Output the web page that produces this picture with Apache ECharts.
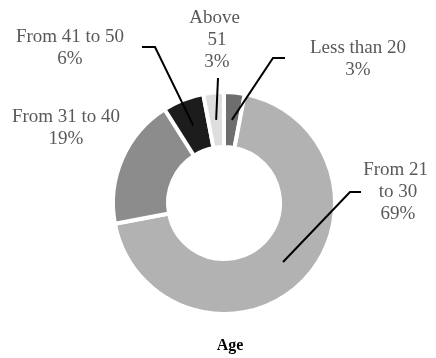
<!DOCTYPE html>
<html>
<head>
<meta charset="utf-8">
<style>
  html, body { margin: 0; padding: 0; background: #ffffff; }
  #chart { width: 436px; height: 358px; }
</style>
<script src="https://cdn.jsdelivr.net/npm/echarts@6/dist/echarts.min.js"></script>
</head>
<body>
<div id="chart"></div>
<script>
// Age distribution of respondents (percent)
const categories = ['Less than 20', 'From 21 to 30', 'From 31 to 40', 'From 41 to 50', 'Above 51'];
const shares = [3, 69, 19, 6, 3];
const sliceColors = ['#6e6e6e', '#b2b2b2', '#8c8c8c', '#1c1c1c', '#dedede'];
const chartTitle = 'Age';

const CX = 224, CY = 203;
const R_OUT = 111, R_IN = 56;
const SERIF = "'Liberation Serif', 'Times New Roman', serif";

// Label placement: label centre, then the leader-line bend/end points (null = no line)
const labelPlaces = [
  { x: 358, y: 59,  wrap: null, line: [[273, 58], [285, 58]] },
  { x: 398, y: 192, wrap: 72,   line: [[350, 192], [361, 192]] },
  { x: 66,  y: 128, wrap: null, line: null },
  { x: 70,  y: 48,  wrap: null, line: [[155, 47], [142, 47]] },
  { x: 217, y: 40,  wrap: 58,   line: [[218, 78]] }
];

// Mid-angle of each slice, clockwise from 12 o'clock, used to anchor leader lines
const total = shares.reduce((a, b) => a + b, 0);
const midAngles = [];
let acc = 0;
shares.forEach(v => {
  midAngles.push((acc + v / 2) / total * 2 * Math.PI);
  acc += v;
});

function anchorPoint(i) {
  const rm = (R_OUT + R_IN) / 2;
  return [CX + rm * Math.sin(midAngles[i]), CY - rm * Math.cos(midAngles[i])];
}

const chart = echarts.init(document.getElementById('chart'), null, { renderer: 'canvas' });

// Coloured ring
const ringData = categories.map((name, i) => ({
  name: name,
  value: shares[i],
  itemStyle: { color: sliceColors[i] }
}));

// Same slices, invisible, carrying labels and leader lines drawn over the ring
const labelData = categories.map((name, i) => {
  const place = labelPlaces[i];
  const item = {
    name: name,
    value: shares[i],
    labelLine: { show: !!place.line }
  };
  if (place.wrap) {
    item.label = { width: place.wrap, overflow: 'break' };
  }
  return item;
});

chart.setOption({
  animation: false,
  backgroundColor: '#ffffff',
  title: {
    text: chartTitle,
    left: 225,
    top: 333,
    textAlign: 'center',
    textStyle: {
      fontFamily: SERIF,
      fontSize: 16,
      fontWeight: 'bold',
      color: '#000000'
    }
  },
  series: [
    {
      type: 'pie',
      z: 2,
      center: [CX, CY],
      radius: [R_IN, R_OUT],
      startAngle: 90,
      clockwise: true,
      silent: true,
      itemStyle: { borderColor: '#ffffff', borderWidth: 4 },
      label: { show: false },
      labelLine: { show: false },
      data: ringData
    },
    {
      type: 'pie',
      z: 5,
      center: [CX, CY],
      radius: [R_IN, R_OUT],
      startAngle: 90,
      clockwise: true,
      silent: true,
      avoidLabelOverlap: false,
      itemStyle: { color: 'rgba(0,0,0,0)', borderWidth: 0 },
      label: {
        show: true,
        position: 'outside',
        formatter: p => p.name + '\n' + p.value + '%',
        fontFamily: SERIF,
        fontSize: 19,
        lineHeight: 22,
        color: '#595959',
        align: 'center'
      },
      labelLine: {
        show: true,
        showAbove: true,
        length: 20,
        length2: 10,
        lineStyle: { color: '#000000', width: 2 }
      },
      labelLayout: function (params) {
        const i = params.dataIndex;
        const place = labelPlaces[i];
        const out = { x: place.x, y: place.y, align: 'center', verticalAlign: 'middle' };
        if (place.line) {
          out.labelLinePoints = [anchorPoint(i)].concat(place.line);
        }
        return out;
      },
      data: labelData
    }
  ]
});
</script>
</body>
</html>
